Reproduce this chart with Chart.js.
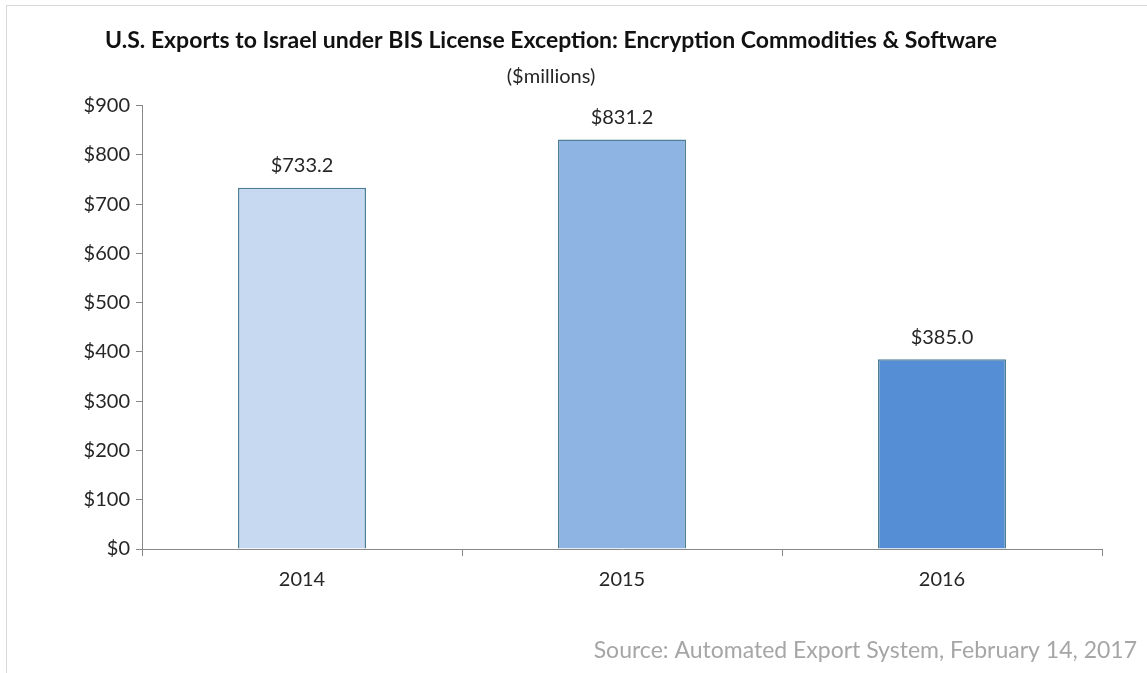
<!DOCTYPE html>
<html>
<head>
<meta charset="utf-8">
<script src="https://cdn.jsdelivr.net/npm/chart.js@4"></script>
<style>
  html, body { margin: 0; padding: 0; background: #fff; }
  #wrap { width: 1147px; height: 673px; position: relative; }
</style>
</head>
<body>
<div id="wrap"><canvas id="exports"></canvas></div>
<script>
// bar chart: exports under license exception ENC
const years = ['2014', '2015', '2016'];
const exportValues = [733.2, 831.2, 385.0];
const barColors = ['#C6D9F1', '#8EB4E3', '#558ED5'];
const yTicks = [0, 100, 200, 300, 400, 500, 600, 700, 800, 900];

const fontFamily = 'Lato, "Open Sans", sans-serif';

// value labels above bars, frame and source note
const extras = {
  id: 'extras',
  beforeDraw(chart) {
    const ctx = chart.ctx;
    ctx.save();
    ctx.strokeStyle = '#D9D9D9';
    ctx.lineWidth = 1;
    ctx.strokeRect(6.5, 5.5, chart.width, chart.height);
    ctx.restore();
  },
  afterDatasetsDraw(chart) {
    const ctx = chart.ctx;
    const meta = chart.getDatasetMeta(0);
    ctx.save();
    ctx.font = '20px ' + fontFamily;
    ctx.fillStyle = '#262626';
    ctx.textAlign = 'center';
    ctx.textBaseline = 'bottom';
    meta.data.forEach((bar, i) => {
      ctx.fillText('$' + exportValues[i].toFixed(1), bar.x, bar.y - 12);
    });
    ctx.font = '23px ' + fontFamily;
    ctx.fillStyle = '#A6A6A6';
    ctx.textAlign = 'right';
    ctx.textBaseline = 'middle';
    ctx.fillText('Source: Automated Export System, February 14, 2017', 1137, 651);
    ctx.restore();
  }
};

new Chart(document.getElementById('exports'), {
  type: 'bar',
  data: {
    labels: years,
    datasets: [{
      data: exportValues,
      backgroundColor: barColors,
      borderColor: '#4E7F99',
      borderWidth: 1.5,
      categoryPercentage: 1,
      barPercentage: 0.4
    }]
  },
  options: {
    responsive: true,
    maintainAspectRatio: false,
    animation: false,
    layout: { padding: { top: 0, left: 0, right: 45, bottom: 60 } },
    plugins: {
      legend: { display: false },
      tooltip: { enabled: false },
      title: {
        display: true,
        text: 'U.S. Exports to Israel under BIS License Exception: Encryption Commodities & Software',
        color: '#111',
        font: { family: fontFamily, size: 23, weight: 'bold' },
        padding: { top: 27, bottom: 4 }
      },
      subtitle: {
        display: true,
        text: '($millions)',
        color: '#262626',
        font: { family: fontFamily, size: 20 },
        padding: { top: 6, bottom: 17 }
      }
    },
    scales: {
      x: {
        offset: true,
        grid: {
          offset: true,
          drawOnChartArea: false,
          color: '#888',
          tickLength: 7
        },
        border: { color: '#888' },
        ticks: {
          color: '#262626',
          font: { family: fontFamily, size: 20 },
          padding: 12
        },
        afterFit(scale) { scale.height = 64; }
      },
      y: {
        min: 0,
        max: 900,
        afterBuildTicks(scale) {
          scale.ticks = yTicks.map(v => ({ value: v }));
        },
        grid: {
          drawOnChartArea: false,
          color: '#888',
          tickLength: 6
        },
        border: { color: '#888' },
        ticks: {
          color: '#262626',
          font: { family: fontFamily, size: 20 },
          padding: 6,
          callback: v => '$' + v
        },
        afterFit(scale) { scale.width = 142; }
      }
    }
  },
  plugins: [extras]
});
</script>
</body>
</html>
